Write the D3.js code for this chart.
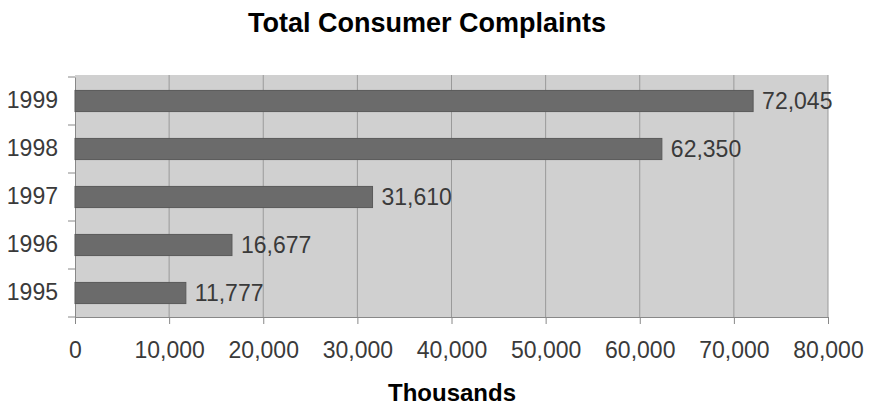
<!DOCTYPE html>
<html><head><meta charset="utf-8">
<script src="https://cdn.jsdelivr.net/npm/d3@7"></script>
<style>body{margin:0;background:#fff}svg{display:block}</style>
</head><body>
<svg id="c" width="869" height="405"></svg>
<script>
const years = ["1995","1996","1997","1998","1999"];
const complaints = [11777, 16677, 31610, 62350, 72045];
const xTicks = [0,10000,20000,30000,40000,50000,60000,70000,80000];
const title = "Total Consumer Complaints";
const xTitle = "Thousands";

const svg = d3.select("#c");
const font = "'Liberation Sans', Arial, sans-serif";
const m = {l:75, r:828, t:77, b:317};
const x = d3.scaleLinear().domain([0,80000]).range([m.l, m.r]);
const y = d3.scaleBand().domain(years.slice().reverse()).range([m.t, m.b]).paddingInner(0.56).paddingOuter(0.28);
const fmt = d3.format(",");

svg.append("rect").attr("x", m.l).attr("y", 75).attr("width", m.r-m.l).attr("height", m.b-75).attr("fill", "#d0d0d0");

svg.append("g").selectAll("line").data(xTicks.slice(1)).join("line")
  .attr("x1", d=>x(d)).attr("x2", d=>x(d)).attr("y1", 75).attr("y2", m.b)
  .attr("stroke", "#9a9a9a").attr("stroke-width", 1);

const xa = svg.append("g").attr("transform", `translate(0,${m.b})`)
  .call(d3.axisBottom(x).tickValues(xTicks).tickFormat(fmt).tickSize(7).tickPadding(0));
xa.select(".domain").attr("stroke", "#888");
xa.selectAll(".tick line").attr("stroke", "#888");
xa.selectAll("text").attr("font-family", font).attr("font-size", 23).attr("fill", "#3a3a3a")
  .attr("dy", null).attr("y", 41);

const ya = svg.append("g").attr("transform", `translate(${m.l},0)`)
  .call(d3.axisLeft(y).tickSize(0).tickPadding(17));
ya.select(".domain").attr("stroke", "#888");
ya.selectAll("text").attr("font-family", font).attr("font-size", 23).attr("fill", "#3a3a3a");
const bounds = years.map((d,i)=> m.t + i*(m.b-m.t)/years.length).concat([m.b]);
svg.append("g").selectAll("line").data(bounds).join("line")
  .attr("x1", m.l-7).attr("x2", m.l).attr("y1", d=>d).attr("y2", d=>d).attr("stroke", "#888");

svg.append("g").selectAll("rect").data(years).join("rect")
  .attr("x", x(0)).attr("y", d=>y(d)).attr("height", y.bandwidth())
  .attr("width", (d,i)=>x(complaints[i])-x(0))
  .attr("fill", "#6b6b6b").attr("stroke", "#5a5a5a").attr("stroke-width", 1);

svg.append("g").selectAll("text").data(years).join("text")
  .attr("x", (d,i)=>x(complaints[i])+9).attr("y", d=>y(d)+y.bandwidth()/2)
  .attr("dy", "0.36em").attr("font-family", font).attr("font-size", 23).attr("fill", "#3a3a3a")
  .text((d,i)=>fmt(complaints[i]));

svg.append("text").attr("x", 427).attr("y", 32).attr("text-anchor", "middle")
  .attr("font-family", font).attr("font-weight", "bold").attr("font-size", 27).attr("fill", "#000").text(title);
svg.append("text").attr("x", 452).attr("y", 401).attr("text-anchor", "middle")
  .attr("font-family", font).attr("font-weight", "bold").attr("font-size", 24).attr("fill", "#000").text(xTitle);
</script>
</body></html>
